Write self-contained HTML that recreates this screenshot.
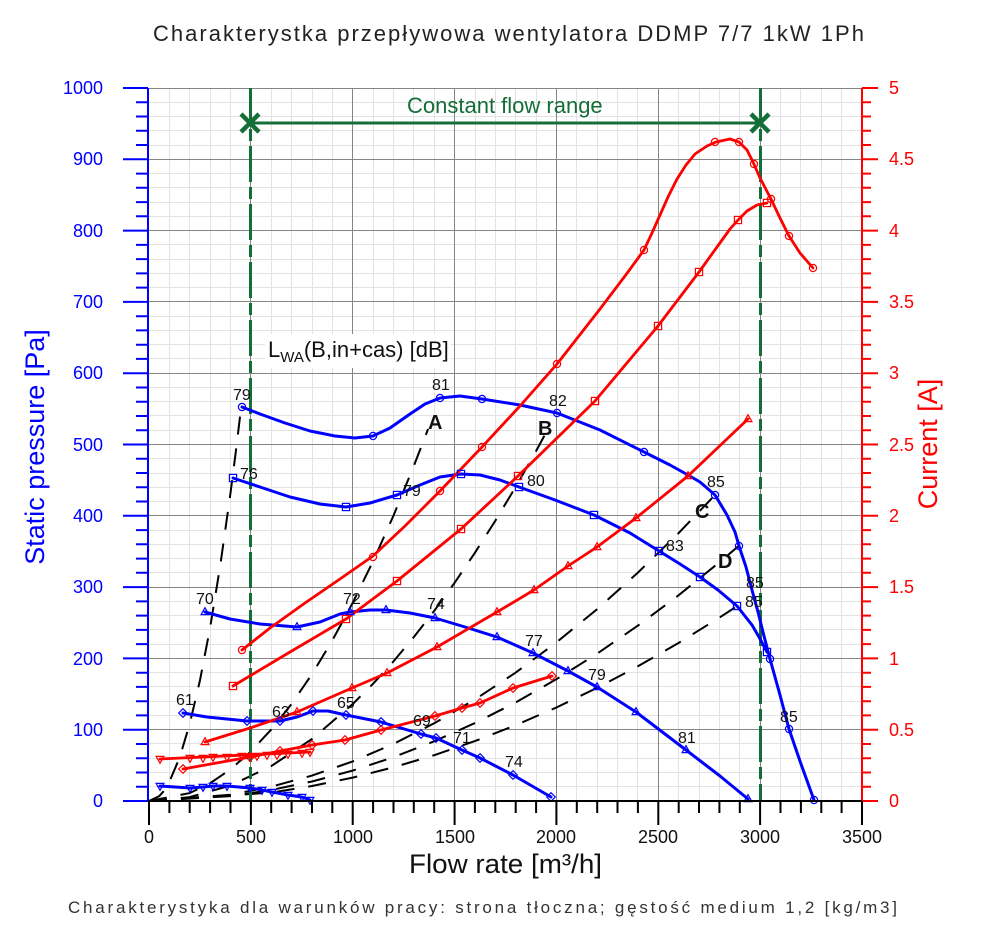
<!DOCTYPE html>
<html>
<head>
<meta charset="utf-8">
<style>
html,body{margin:0;padding:0;background:#fff;}
svg{display:block;font-family:"Liberation Sans",Arial,sans-serif;}
</style>
</head>
<body>
<svg width="1000" height="939" viewBox="0 0 1000 939" xmlns="http://www.w3.org/2000/svg">
<defs>
<circle id="mc" r="3.6"/>
<rect id="ms" x="-3.6" y="-3.6" width="7.2" height="7.2"/>
<path id="mt" d="M0,-4.3L3.9,2.6L-3.9,2.6Z"/>
<path id="md" d="M0,-4.3L4.3,0L0,4.3L-4.3,0Z"/>
<path id="mv" d="M0,4.3L3.9,-2.6L-3.9,-2.6Z"/>
</defs>
<rect width="1000" height="939" fill="#fff"/>

<!-- Title -->
<text x="153" y="41" font-size="22" fill="#222" textLength="711" lengthAdjust="spacing">Charakterystka przepływowa wentylatora DDMP 7/7 1kW 1Ph</text>

<!-- minor grid -->
<path fill="none" stroke="#e3e3e3" stroke-width="1" d="
M169.5,88V801M189.5,88V801M210.5,88V801M230.5,88V801
M271.5,88V801M291.5,88V801M312.5,88V801M332.5,88V801
M373.5,88V801M393.5,88V801M413.5,88V801M434.5,88V801
M475.5,88V801M495.5,88V801M515.5,88V801M536.5,88V801
M576.5,88V801M597.5,88V801M617.5,88V801M637.5,88V801
M678.5,88V801M699.5,88V801M719.5,88V801M739.5,88V801
M780.5,88V801M800.5,88V801M821.5,88V801M841.5,88V801
M148,786.5H862M148,772.5H862M148,758.5H862M148,743.5H862
M148,715.5H862M148,701.5H862M148,686.5H862M148,672.5H862
M148,644.5H862M148,629.5H862M148,615.5H862M148,601.5H862
M148,572.5H862M148,558.5H862M148,544.5H862M148,530.5H862
M148,501.5H862M148,487.5H862M148,473.5H862M148,458.5H862
M148,430.5H862M148,415.5H862M148,401.5H862M148,387.5H862
M148,358.5H862M148,344.5H862M148,330.5H862M148,316.5H862
M148,287.5H862M148,273.5H862M148,259.5H862M148,244.5H862
M148,216.5H862M148,202.5H862M148,187.5H862M148,173.5H862
M148,145.5H862M148,130.5H862M148,116.5H862M148,102.5H862"/>
<!-- major grid -->
<path fill="none" stroke="#858585" stroke-width="1" d="
M250.5,88V801M352.5,88V801M454.5,88V801M556.5,88V801M658.5,88V801M760.5,88V801
M148,729.5H862M148,658.5H862M148,587.5H862M148,515.5H862M148,444.5H862
M148,373.5H862M148,301.5H862M148,230.5H862M148,159.5H862M148,88.5H862"/>

<!-- system curves (dashed) -->
<g fill="none" stroke="#000" stroke-width="2" stroke-dasharray="18 14">
<path d="M149,801L159.2,796.2L163.3,791.6L169.4,781.7L179.6,757.7L189.7,724L199.9,680.7L210.1,627.7L220.3,565.2L230.5,493L235.6,453.3L241.1,407.7"/>
<path d="M149,801L189.7,793.1L210.1,783.2L230.5,769.3L250.9,751.4L271.2,729.6L291.6,703.9L312,674.2L332.3,640.4L352.7,602.8L373.1,561.2L393.5,515.6L413.8,466L428.1,429"/>
<path d="M149,801L189.7,797.1L230.5,785.5L271.2,766.1L312,739L352.7,704L373.1,683.7L393.5,661.4L413.8,637.1L434.2,610.9L454.6,582.8L474.9,552.8L495.3,520.8L515.7,486.8L536.1,451L548.3,428.5"/>
<path d="M149,801L230.5,794.7L271.2,786.7L312,775.6L352.7,761.4L393.5,743.9L434.2,723.3L474.9,699.5L515.7,672.6L556.4,642.4L597.2,609.1L637.9,572.6L678.7,533L714.9,495.1"/>
<path d="M149,801L230.5,796.1L271.2,790L312,781.5L352.7,770.6L393.5,757.2L434.2,741.3L474.9,723.1L515.7,702.4L556.4,679.2L597.2,653.6L637.9,625.6L678.7,595.2L719.4,562.3L739,545.7"/>
<path d="M149,801L271.2,792.6L312,786L352.7,777.6L393.5,767.3L434.2,755.2L474.9,741.1L515.7,725.2L556.4,707.5L597.2,687.8L637.9,666.3L678.7,642.9L719.4,617.6L737.1,606.1"/>
</g>

<!-- green constant flow range -->
<g stroke="#146e37" fill="none">
<path stroke-width="3" stroke-dasharray="36 5 12 5" d="M250.5,88V801M760.5,88V801"/>
<path stroke-width="3" d="M250,123H760"/>
<path stroke-width="4.5" d="M241,114L259,132M259,114L241,132M751,114L769,132M769,114L751,132"/>
</g>
<text x="407" y="113" font-size="22" fill="#146e37">Constant flow range</text>

<!-- LWA label -->
<rect x="265" y="334" width="186" height="34" fill="#fff"/>
<text x="268" y="357" font-size="22" fill="#111">L<tspan font-size="15" dy="5">WA</tspan><tspan dy="-5">(B,in+cas) [dB]</tspan></text>

<!-- blue fan curves -->
<g fill="none" stroke="#0000ff" stroke-width="3" stroke-linejoin="round" stroke-linecap="round">
<polyline points="242,407 260,414 285,423 310,431 335,436 355,438 373,436 390,428 410,414 425,404 440,398 460,396 482,399 520,405 557,413 600,430 644,452 670,465 688,475 700,482 715,495 727,515 735,532 739,546 746,567 752,590 758,612 764,636 770,659 780,695 789,729 801,764 814,800"/>
<polyline points="233,478 260,487 290,497 320,504 346,507 370,503 397,495 420,485 440,477 461,474 480,475 500,480 519,487 555,500 594,515 630,533 659,551 680,564 700,577 718,590 737,606 752,625 759,637 767,652"/>
<polyline points="205,612 230,619 260,624 297,627 320,622 340,614 350,612 370,610 386,610 410,613 435,618 465,627 497,637 533,653 568,671 597,687 636,712 686,750 720,776 748,799"/>
<polyline points="183,713 207,717 247,721 280,721 297,717 313,711 328,711 346,715 381,722 421,734 436,738 462,750 480,758 513,775 551,797"/>
<polyline points="160,786 190,788 203,787 213,786 227,786 250,788 262,790 272,792 288,795 302,797 310,800"/>
</g>

<!-- red current curves -->
<g fill="none" stroke="#ff0000" stroke-width="2.8" stroke-linejoin="round" stroke-linecap="round">
<polyline points="242,650 270,628 305,603 340,579 373,556 405,526 440,491 482,447 520,406 557,364 600,309 625,276 644,250 652,233 660,215 668,197 677,179 686,165 695,154 707,146 716,142 730,139 739,142 747,150 753,162 760,178 771,199 780,218 789,236 800,253 813,268"/>
<polyline points="233,686 290,652 346,619 397,581 461,529 518,476 595,401 658,326 699,272 717,247 730,229 738,220 747,211 757,205 767,203"/>
<polyline points="205,742 250,728 297,712 352,688 387,673 437,647 497,612 534,590 568,566 597,547 636,518 688,476 748,419"/>
<polyline points="183,769 250,757 280,751 312,745 345,740 381,730 435,716 462,708 480,703 513,688 552,676"/>
<polyline points="160,759 310,752"/>
</g>

<!-- markers blue -->
<g fill="none" stroke="#0000ff" stroke-width="1.2">
<use href="#mc" x="242" y="407"/><use href="#mc" x="373" y="436"/><use href="#mc" x="440" y="398"/><use href="#mc" x="482" y="399"/><use href="#mc" x="557" y="413"/><use href="#mc" x="644" y="452"/><use href="#mc" x="715" y="495"/><use href="#mc" x="739" y="546"/><use href="#mc" x="770" y="659"/><use href="#mc" x="789" y="729"/><use href="#mc" x="814" y="800"/>
<use href="#ms" x="233" y="478"/><use href="#ms" x="346" y="507"/><use href="#ms" x="397" y="495"/><use href="#ms" x="461" y="474"/><use href="#ms" x="519" y="487"/><use href="#ms" x="594" y="515"/><use href="#ms" x="659" y="551"/><use href="#ms" x="700" y="577"/><use href="#ms" x="737" y="606"/><use href="#ms" x="767" y="652"/>
<use href="#mt" x="205" y="612"/><use href="#mt" x="297" y="627"/><use href="#mt" x="350" y="612"/><use href="#mt" x="386" y="610"/><use href="#mt" x="435" y="618"/><use href="#mt" x="497" y="637"/><use href="#mt" x="533" y="653"/><use href="#mt" x="568" y="671"/><use href="#mt" x="597" y="687"/><use href="#mt" x="636" y="712"/><use href="#mt" x="686" y="750"/><use href="#mt" x="748" y="799"/>
<use href="#md" x="183" y="713"/><use href="#md" x="247" y="721"/><use href="#md" x="280" y="721"/><use href="#md" x="313" y="711"/><use href="#md" x="346" y="715"/><use href="#md" x="381" y="722"/><use href="#md" x="421" y="734"/><use href="#md" x="436" y="738"/><use href="#md" x="462" y="750"/><use href="#md" x="480" y="758"/><use href="#md" x="513" y="775"/><use href="#md" x="551" y="797"/>
<use href="#mv" x="160" y="786"/><use href="#mv" x="190" y="788"/><use href="#mv" x="203" y="787"/><use href="#mv" x="213" y="786"/><use href="#mv" x="227" y="786"/><use href="#mv" x="250" y="788"/><use href="#mv" x="262" y="790"/><use href="#mv" x="272" y="792"/><use href="#mv" x="288" y="795"/><use href="#mv" x="302" y="797"/><use href="#mv" x="310" y="800"/>
</g>
<!-- markers red -->
<g fill="none" stroke="#ff0000" stroke-width="1.2">
<use href="#mc" x="242" y="650"/><use href="#mc" x="373" y="557"/><use href="#mc" x="440" y="491"/><use href="#mc" x="482" y="447"/><use href="#mc" x="557" y="364"/><use href="#mc" x="644" y="250"/><use href="#mc" x="715" y="142"/><use href="#mc" x="739" y="142"/><use href="#mc" x="754" y="164"/><use href="#mc" x="771" y="199"/><use href="#mc" x="789" y="236"/><use href="#mc" x="813" y="268"/>
<use href="#ms" x="233" y="686"/><use href="#ms" x="346" y="619"/><use href="#ms" x="397" y="581"/><use href="#ms" x="461" y="529"/><use href="#ms" x="518" y="476"/><use href="#ms" x="595" y="401"/><use href="#ms" x="658" y="326"/><use href="#ms" x="699" y="272"/><use href="#ms" x="738" y="220"/><use href="#ms" x="767" y="203"/>
<use href="#mt" x="205" y="742"/><use href="#mt" x="297" y="712"/><use href="#mt" x="352" y="688"/><use href="#mt" x="387" y="673"/><use href="#mt" x="437" y="647"/><use href="#mt" x="497" y="612"/><use href="#mt" x="534" y="590"/><use href="#mt" x="568" y="566"/><use href="#mt" x="597" y="547"/><use href="#mt" x="636" y="518"/><use href="#mt" x="688" y="476"/><use href="#mt" x="748" y="419"/>
<use href="#md" x="183" y="769"/><use href="#md" x="250" y="757"/><use href="#md" x="280" y="751"/><use href="#md" x="312" y="745"/><use href="#md" x="345" y="740"/><use href="#md" x="381" y="730"/><use href="#md" x="435" y="716"/><use href="#md" x="462" y="708"/><use href="#md" x="480" y="703"/><use href="#md" x="513" y="688"/><use href="#md" x="552" y="676"/>
<use href="#mv" x="160" y="759"/><use href="#mv" x="190" y="758"/><use href="#mv" x="203" y="758"/><use href="#mv" x="213" y="757"/><use href="#mv" x="227" y="757"/><use href="#mv" x="242" y="756"/><use href="#mv" x="257" y="756"/><use href="#mv" x="267" y="755"/><use href="#mv" x="277" y="755"/><use href="#mv" x="288" y="754"/><use href="#mv" x="302" y="753"/><use href="#mv" x="310" y="752"/>
</g>

<!-- point labels -->
<g font-size="16" fill="#111">
<text x="233" y="400">79</text>
<text x="240" y="479">76</text>
<text x="432" y="390">81</text>
<text x="549" y="406">82</text>
<text x="403" y="496">79</text>
<text x="527" y="486">80</text>
<text x="707" y="487">85</text>
<text x="666" y="551">83</text>
<text x="746" y="588">85</text>
<text x="745" y="607">85</text>
<text x="780" y="722">85</text>
<text x="196" y="604">70</text>
<text x="343" y="604">72</text>
<text x="427" y="609">74</text>
<text x="525" y="646">77</text>
<text x="588" y="680">79</text>
<text x="678" y="743">81</text>
<text x="176" y="705">61</text>
<text x="272" y="717">63</text>
<text x="337" y="708">65</text>
<text x="413" y="726">69</text>
<text x="453" y="743">71</text>
<text x="505" y="767">74</text>
</g>
<g font-size="20" font-weight="bold" fill="#111">
<text x="428" y="429">A</text>
<text x="538" y="435">B</text>
<text x="695" y="518">C</text>
<text x="718" y="568">D</text>
</g>

<!-- left axis -->
<g stroke="#0000ff" stroke-width="2" fill="none">
<path d="M148,88V801"/>
<path d="M123,801H148M123,729.7H148M123,658.4H148M123,587.1H148M123,515.8H148M123,444.5H148M123,373.2H148M123,301.9H148M123,230.6H148M123,159.3H148M123,88H148"/>
<path d="M136,786.7H148M136,772.5H148M136,758.2H148M136,744H148M136,715.4H148M136,701.2H148M136,686.9H148M136,672.7H148M136,644.1H148M136,629.9H148M136,615.6H148M136,601.4H148M136,572.8H148M136,558.6H148M136,544.3H148M136,530.1H148M136,501.5H148M136,487.3H148M136,473H148M136,458.8H148M136,430.2H148M136,416H148M136,401.7H148M136,387.5H148M136,358.9H148M136,344.7H148M136,330.4H148M136,316.2H148M136,287.6H148M136,273.4H148M136,259.1H148M136,244.9H148M136,216.3H148M136,202.1H148M136,187.8H148M136,173.6H148M136,145H148M136,130.8H148M136,116.5H148M136,102.3H148"/>
</g>
<g font-size="18" fill="#0000ff" text-anchor="end">
<text x="103" y="807">0</text>
<text x="103" y="736">100</text>
<text x="103" y="665">200</text>
<text x="103" y="593">300</text>
<text x="103" y="522">400</text>
<text x="103" y="451">500</text>
<text x="103" y="379">600</text>
<text x="103" y="308">700</text>
<text x="103" y="237">800</text>
<text x="103" y="165">900</text>
<text x="103" y="94">1000</text>
</g>
<text transform="translate(44,447) rotate(-90)" text-anchor="middle" font-size="27" fill="#0000ff">Static pressure [Pa]</text>

<!-- right axis -->
<g stroke="#ff0000" stroke-width="2" fill="none">
<path d="M862,88V801"/>
<path d="M862,801H878M862,729.7H878M862,658.4H878M862,587.1H878M862,515.8H878M862,444.5H878M862,373.2H878M862,301.9H878M862,230.6H878M862,159.3H878M862,88H878"/>
<path d="M862,786.7H871M862,772.5H871M862,758.2H871M862,744H871M862,715.4H871M862,701.2H871M862,686.9H871M862,672.7H871M862,644.1H871M862,629.9H871M862,615.6H871M862,601.4H871M862,572.8H871M862,558.6H871M862,544.3H871M862,530.1H871M862,501.5H871M862,487.3H871M862,473H871M862,458.8H871M862,430.2H871M862,416H871M862,401.7H871M862,387.5H871M862,358.9H871M862,344.7H871M862,330.4H871M862,316.2H871M862,287.6H871M862,273.4H871M862,259.1H871M862,244.9H871M862,216.3H871M862,202.1H871M862,187.8H871M862,173.6H871M862,145H871M862,130.8H871M862,116.5H871M862,102.3H871"/>
</g>
<g font-size="18" fill="#ff0000">
<text x="889" y="807">0</text>
<text x="889" y="736">0.5</text>
<text x="889" y="665">1</text>
<text x="889" y="593">1.5</text>
<text x="889" y="522">2</text>
<text x="889" y="451">2.5</text>
<text x="889" y="379">3</text>
<text x="889" y="308">3.5</text>
<text x="889" y="237">4</text>
<text x="889" y="165">4.5</text>
<text x="889" y="94">5</text>
</g>
<text transform="translate(937,444) rotate(-90)" text-anchor="middle" font-size="27" fill="#ff0000">Current [A]</text>

<!-- bottom axis -->
<g stroke="#000" stroke-width="2" fill="none">
<path d="M148,801H862"/>
<path d="M149,801V825M250.9,801V825M352.7,801V825M454.6,801V825M556.4,801V825M658.3,801V825M760.1,801V825M862,801V825"/>
<path d="M169.4,801V813M189.7,801V813M210.1,801V813M230.5,801V813M271.2,801V813M291.6,801V813M312,801V813M332.3,801V813M373.1,801V813M393.5,801V813M413.8,801V813M434.2,801V813M474.9,801V813M495.3,801V813M515.7,801V813M536.1,801V813M576.8,801V813M597.2,801V813M617.5,801V813M637.9,801V813M678.7,801V813M699,801V813M719.4,801V813M739.8,801V813M780.5,801V813M800.9,801V813M821.3,801V813M841.6,801V813"/>
</g>
<g font-size="18" fill="#111" text-anchor="middle">
<text x="149" y="843">0</text>
<text x="251" y="843">500</text>
<text x="353" y="843">1000</text>
<text x="455" y="843">1500</text>
<text x="556" y="843">2000</text>
<text x="658" y="843">2500</text>
<text x="760" y="843">3000</text>
<text x="862" y="843">3500</text>
</g>
<text x="409" y="873" font-size="27" fill="#111" textLength="193" lengthAdjust="spacingAndGlyphs">Flow rate [m³/h]</text>

<!-- caption -->
<text x="68" y="913" font-size="17" fill="#333" textLength="829" lengthAdjust="spacing">Charakterystyka dla warunków pracy: strona tłoczna; gęstość medium 1,2 [kg/m3]</text>
</svg>
</body>
</html>
